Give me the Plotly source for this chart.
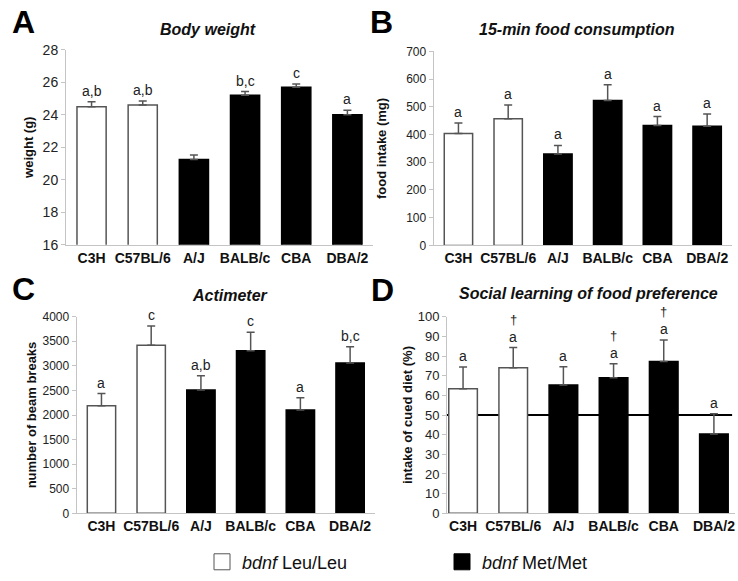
import plotly.graph_objects as go

strains = ["C3H", "C57BL/6", "A/J", "BALB/c", "CBA", "DBA/2"]
genotype = ["Leu", "Leu", "Met", "Met", "Met", "Met"]

weight = [24.5, 24.6, 21.25, 25.2, 25.7, 24.0]
weight_err = [0.3, 0.25, 0.28, 0.23, 0.2, 0.28]
weight_lbl = ["a,b", "a,b", "", "b,c", "c", "a"]

food = [404, 457, 330, 523, 433, 430]
food_err = [38, 50, 31, 57, 32, 44]
food_lbl = ["a", "a", "a", "a", "a", "a"]

beams = [2190, 3418, 2510, 3306, 2100, 3056]
beams_err = [245, 395, 290, 380, 250, 335]
beams_lbl = ["a", "c", "a,b", "c", "a", "b,c"]

cued = [63.4, 74.0, 65.2, 68.9, 77.2, 40.4]
cued_err = [11.0, 10.3, 9.3, 7.2, 11.0, 10.2]
cued_lbl = ["a", "a", "a", "a", "a", "a"]
cued_dagger = ["", "†", "", "†", "†", ""]
chance_level = 50

titles = ["Body weight", "15-min food consumption", "Actimeter",
          "Social learning of food preference"]
ytitles = ["weight (g)", "food intake (mg)", "number of beam breaks",
           "intake of cued diet (%)"]
letters = ["A", "B", "C", "D"]
legend_names = ["<i>bdnf</i> Leu/Leu", "<i>bdnf</i> Met/Met"]

FONT = "Arial, Liberation Sans, sans-serif"
fill = {"Leu": "white", "Met": "black"}
edge = {"Leu": "#555555", "Met": "black"}

panels = [
    dict(v=weight, e=weight_err, l=weight_lbl, d=[""] * 6, rng=[16, 28],
         dt=2, xd=[0.0894, 0.5054], yd=[0.5766, 0.9139], xr=[-0.5, 5.5],
         tf=14, so=6),
    dict(v=food, e=food_err, l=food_lbl, d=[""] * 6, rng=[0, 700], dt=100,
         xd=[0.5875, 0.9919], yd=[0.5754, 0.9110], xr=[-0.5, 5.5], tf=12,
         so=16),
    dict(v=beams, e=beams_err, l=beams_lbl, d=[""] * 6, rng=[0, 4000],
         dt=500, xd=[0.1038, 0.5081], yd=[0.1119, 0.4521], xr=[-0.5, 5.5],
         tf=12, so=2),
    dict(v=cued, e=cued_err, l=cued_lbl, d=cued_dagger, rng=[0, 100], dt=10,
         xd=[0.6057, 0.9959], yd=[0.1119, 0.4521], xr=[-0.32, 5.42], tf=13,
         so=2),
]

fig = go.Figure()
layout = {}
ann = []
for i, p in enumerate(panels):
    n = i + 1
    xa = "x" if n == 1 else f"x{n}"
    ya = "y" if n == 1 else f"y{n}"
    fig.add_trace(go.Bar(
        x=strains, y=p["v"], xaxis=xa, yaxis=ya, width=0.57,
        marker=dict(color=[fill[g] for g in genotype],
                    line=dict(color=[edge[g] for g in genotype], width=1.5)),
        error_y=dict(type="data", symmetric=False, array=p["e"],
                     arrayminus=[0] * len(p["e"]), color="#555555",
                     thickness=1.5, width=4),
        showlegend=False, hoverinfo="skip"))
    for s, v, e, lbl, dg in zip(strains, p["v"], p["e"], p["l"], p["d"]):
        if lbl:
            ann.append(dict(x=s, y=v + e, xref=xa, yref=ya, text=lbl,
                            showarrow=False, xanchor="center",
                            yanchor="bottom", yshift=2, borderpad=0,
                            font=dict(family=FONT, size=14,
                                      color="#222222")))
        if dg:
            ann.append(dict(x=s, y=v + e, xref=xa, yref=ya, text=dg,
                            showarrow=False, xanchor="center",
                            yanchor="bottom", yshift=20, borderpad=0,
                            font=dict(family=FONT, size=13,
                                      color="#222222")))
    layout[f"xaxis{'' if n == 1 else n}"] = dict(
        domain=p["xd"], anchor=ya, range=p["xr"], type="category",
        categoryorder="array", categoryarray=strains, automargin=False,
        showline=True, linecolor="#c4c4c4", linewidth=1, ticks="",
        showgrid=False, zeroline=False,
        tickfont=dict(family=FONT, size=14, color="#111111", weight="bold"))
    layout[f"yaxis{'' if n == 1 else n}"] = dict(
        domain=p["yd"], anchor=xa, range=p["rng"], dtick=p["dt"],
        automargin=False,
        showline=True, linecolor="#c4c4c4", linewidth=1,
        ticks="outside", ticklen=4, tickcolor="#c4c4c4",
        showgrid=False, zeroline=False,
        tickfont=dict(family=FONT, size=p["tf"], color="#222222"),
        title=dict(text=ytitles[i], standoff=p["so"],
                   font=dict(family=FONT, size=13, color="#111111",
                             weight="bold")))

# legend-only entries
for name, g in zip(legend_names, ["Leu", "Met"]):
    fig.add_trace(go.Scatter(
        x=[None], y=[None], mode="markers", name=name,
        marker=dict(symbol="square", size=16, color=fill[g],
                    line=dict(color=edge[g], width=1))))

fig.add_shape(type="line", xref="x4 domain", yref="y4", x0=0, x1=0.99,
              y0=chance_level, y1=chance_level,
              line=dict(color="black", width=2), layer="below")

title_pos = [(208, 30), (577, 30), (230, 297), (588, 295)]
letter_pos = [(23, 22), (381, 22), (23, 291), (382, 292)]
for t, (px, py) in zip(titles, title_pos):
    ann.append(dict(text=t, xref="paper", yref="paper", x=px / 738,
                    y=1 - py / 581, showarrow=False, xanchor="center",
                    yanchor="middle", borderpad=0,
                    font=dict(family=FONT, size=16, color="#111111",
                              weight="bold", style="italic")))
for t, (px, py) in zip(letters, letter_pos):
    ann.append(dict(text=t, xref="paper", yref="paper", x=px / 738,
                    y=1 - py / 581, showarrow=False, xanchor="center",
                    yanchor="middle", borderpad=0,
                    font=dict(family=FONT, size=32, color="black",
                              weight="bold")))

fig.update_layout(
    **layout,
    annotations=ann,
    barmode="overlay",
    width=738, height=581,
    margin=dict(l=0, r=0, t=0, b=0),
    paper_bgcolor="white", plot_bgcolor="white",
    showlegend=True,
    legend=dict(orientation="h", x=202 / 738, y=1 - 565 / 581,
                xanchor="left", yanchor="middle",
                entrywidth=195, entrywidthmode="pixels",
                font=dict(family=FONT, size=18, color="#111111"),
                bgcolor="rgba(0,0,0,0)"),
)

fig.write_html("out.html", config={"displayModeBar": False},
               post_script="document.body.style.margin='0';"
                           "document.body.style.overflow='hidden';")
